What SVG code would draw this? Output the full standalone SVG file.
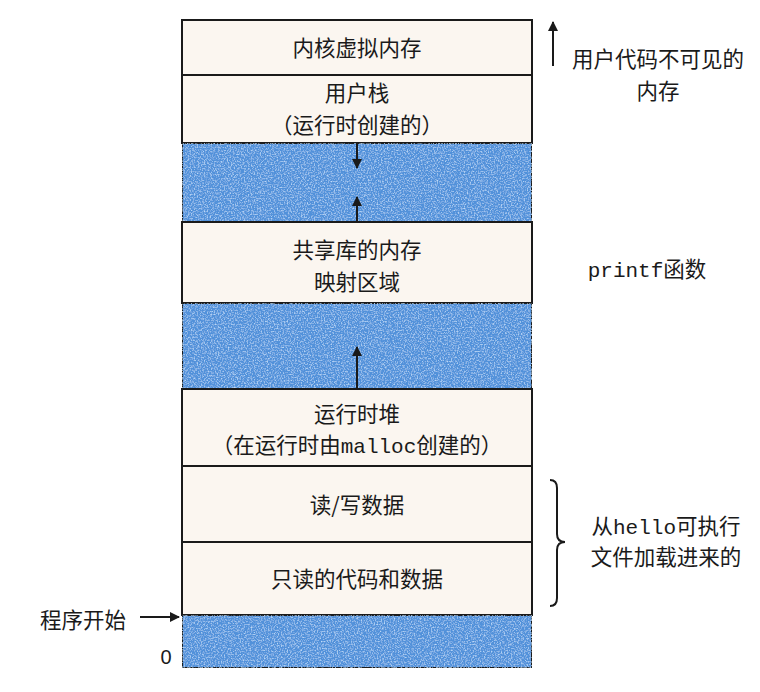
<svg xmlns="http://www.w3.org/2000/svg" width="760" height="692" viewBox="0 0 760 692">
<defs>
<style>
.cn{font-family:"Noto Sans CJK SC","Noto Sans",sans-serif;font-size:21.5px;fill:#1a1a1a;text-anchor:middle}
.mono{font-family:"Liberation Mono","DejaVu Sans Mono",monospace;font-size:21px}
.box{fill:#fbf6f0;stroke:#1a1a1a;stroke-width:2}
.blue{fill:#5191da;stroke:#1a1a1a;stroke-width:2}
.ln{stroke:#1a1a1a;stroke-width:2;fill:none}
</style>
<marker id="ah" viewBox="0 0 10 10" refX="9" refY="5" markerWidth="5" markerHeight="5" orient="auto-start-reverse">
<path d="M0,0 L10,5 L0,10 z" fill="#1a1a1a"/>
</marker>
<filter id="noise" x="0" y="0" width="100%" height="100%">
<feTurbulence type="fractalNoise" baseFrequency="0.7" numOctaves="2" seed="3" result="t"/>
<feColorMatrix in="t" type="matrix" values="0 0 0 0 0.55  0 0 0 0 0.75  0 0 0 0 0.97  0 0 0 2.2 -1.0" result="n"/>
<feComposite in="n" in2="SourceGraphic" operator="in" result="nc"/>
<feMerge><feMergeNode in="SourceGraphic"/><feMergeNode in="nc"/></feMerge>
</filter>
</defs>
<rect width="760" height="692" fill="#ffffff"/>

<g id="kernel">
<rect class="box" x="182" y="20" width="350" height="55"/>
<text class="cn" x="357" y="56">内核虚拟内存</text>
</g>
<g id="user-stack">
<rect class="box" x="182" y="75" width="350" height="68"/>
<text class="cn" x="357" y="101">用户栈</text>
<text class="cn" x="357" y="133">（运行时创建的）</text>
</g>
<g id="gap1">
<rect class="blue" x="182" y="143" width="350" height="79" filter="url(#noise)"/>
</g>
<g id="shared-lib">
<rect class="box" x="182" y="222" width="350" height="81"/>
<text class="cn" x="357" y="258">共享库的内存</text>
<text class="cn" x="357" y="290">映射区域</text>
</g>
<g id="gap2">
<rect class="blue" x="182" y="303" width="350" height="86" filter="url(#noise)"/>
</g>
<g id="heap">
<rect class="box" x="182" y="389" width="350" height="77"/>
<text class="cn" x="357" y="422">运行时堆</text>
<text class="cn" x="357" y="453">（在运行时由<tspan class="mono">malloc</tspan>创建的）</text>
</g>
<g id="rw-data">
<rect class="box" x="182" y="466" width="350" height="76"/>
<text class="cn" x="357" y="513">读/写数据</text>
</g>
<g id="ro-code">
<rect class="box" x="182" y="542" width="350" height="73"/>
<text class="cn" x="357" y="587">只读的代码和数据</text>
</g>
<g id="bottom">
<rect class="blue" x="182" y="615" width="350" height="53" filter="url(#noise)"/>
</g>

<g id="connectors">
<line class="ln" x1="357" y1="143" x2="357" y2="168" marker-end="url(#ah)"/>
<line class="ln" x1="357" y1="222" x2="357" y2="197" marker-end="url(#ah)"/>
<line class="ln" x1="357" y1="389" x2="357" y2="347" marker-end="url(#ah)"/>
<line class="ln" x1="553" y1="66" x2="553" y2="22" marker-end="url(#ah)"/>
<line class="ln" x1="140" y1="617" x2="179" y2="617" marker-end="url(#ah)"/>
<path class="ln" d="M550,480 Q557,480 557,488 L557,534 Q557,542 565,542 Q557,542 557,550 L557,598 Q557,606 550,606"/>
</g>

<g id="labels">
<text class="cn" x="658" y="67">用户代码不可见的</text>
<text class="cn" x="658" y="99">内存</text>
<text class="cn" x="647" y="277"><tspan class="mono">printf</tspan>函数</text>
<text class="cn" x="666" y="534">从<tspan class="mono">hello</tspan>可执行</text>
<text class="cn" x="666" y="565">文件加载进来的</text>
<text class="cn" x="83" y="628">程序开始</text>
<text class="cn" x="166" y="664" style="font-family:'Liberation Sans',sans-serif;font-size:20px">0</text>
</g>
</svg>
